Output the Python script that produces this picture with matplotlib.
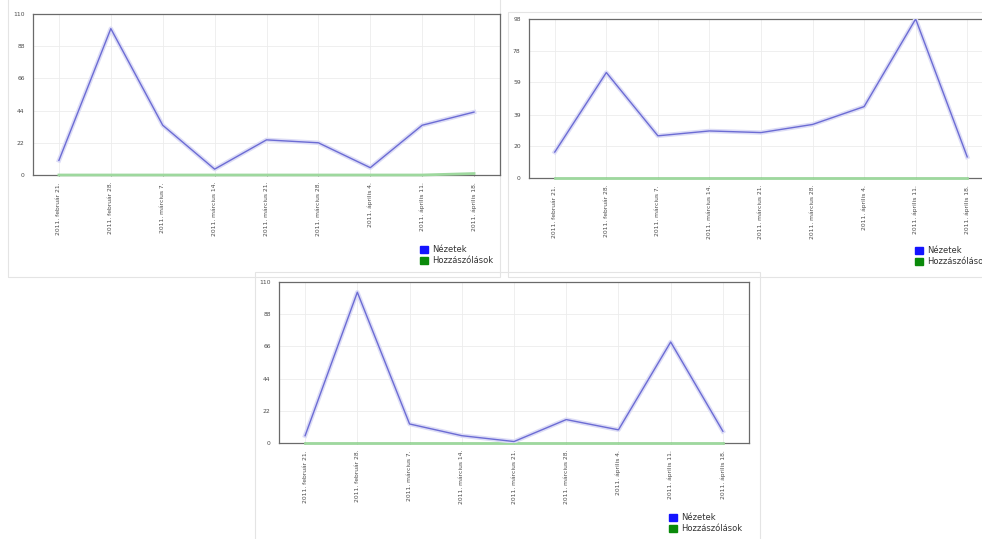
import matplotlib.pyplot as plt
from matplotlib.patches import Rectangle, Patch

# weekly dates (same for all three panels)
dates = ['2011. február 21.', '2011. február 28.', '2011. március 7.',
         '2011. március 14.', '2011. március 21.', '2011. március 28.',
         '2011. április 4.', '2011. április 11.', '2011. április 18.']

# panel 1 (top left)
views1 = [10, 100, 34, 4, 24, 22, 5, 34, 43]
comments1 = [0, 0, 0, 0, 0, 0, 0, 0, 1]
yticks1 = [0, 22, 44, 66, 88, 110]

# panel 2 (top right)
views2 = [16, 65, 26, 29, 28, 33, 44, 98, 13]
comments2 = [0, 0, 0, 0, 0, 0, 0, 0, 0]
yticks2 = [0, 20, 39, 59, 78, 98]

# panel 3 (bottom)
views3 = [5, 103, 13, 5, 1, 16, 9, 69, 8]
comments3 = [0, 0, 0, 0, 0, 0, 0, 0, 0]
yticks3 = [0, 22, 44, 66, 88, 110]

W, H = 982, 539
fig = plt.figure(figsize=(W / 100, H / 100), dpi=100)
fig.patch.set_facecolor('white')


def px_rect(x0, y0, x1, y1):
    # pixel box (top-left origin) -> figure fraction [l, b, w, h]
    return [x0 / W, 1 - y1 / H, (x1 - x0) / W, (y1 - y0) / H]


# light card outlines behind each chart
for x0, y0, x1, y1 in [(8, -5, 500, 277), (508, 12, 990, 277), (255, 272, 760, 545)]:
    l, b, w, h = px_rect(x0, y0, x1, y1)
    fig.patches.append(Rectangle((l, b), w, h, transform=fig.transFigure,
                                 facecolor='none', edgecolor='#e4e4e4', lw=0.8, zorder=-5))


def panel(box, views, comments, yticks, legend_xy):
    ax = fig.add_axes(px_rect(*box))
    ax.patch.set_alpha(0)
    x = list(range(len(dates)))
    ax.plot(x, comments, color='#9ed89e', lw=2.0, zorder=3, clip_on=False)
    ax.plot(x, views, color='#dcdcf6', lw=3.2, zorder=4, solid_joinstyle='round')
    ax.plot(x, views, color='#6c6cd4', lw=1.0, zorder=5)
    ax.set_xlim(-0.5, len(dates) - 0.5)
    ax.set_ylim(yticks[0], yticks[-1])
    ax.set_xticks(x)
    ax.set_xticklabels(dates, rotation=90, fontsize=4.3, color='#4a4a4a')
    ax.set_yticks(yticks)
    ax.set_yticklabels([str(t) for t in yticks], fontsize=4.3, color='#4a4a4a')
    ax.tick_params(axis='x', length=2, width=0.6, direction='inout', color='#777777', pad=4)
    ax.tick_params(axis='y', length=0, pad=6)
    ax.grid(True, color='#ececec', lw=0.6)
    ax.set_axisbelow(True)
    for s in ax.spines.values():
        s.set_color('#6a6a6a')
        s.set_linewidth(0.9)
    handles = [Patch(facecolor='#1414ff', edgecolor='#1414ff', label='Nézetek'),
               Patch(facecolor='#0a8a0a', edgecolor='#0a8a0a', label='Hozzászólások')]
    leg = ax.legend(handles=handles, loc='upper left',
                    bbox_to_anchor=(legend_xy[0] / W, 1 - legend_xy[1] / H),
                    bbox_transform=fig.transFigure, frameon=False, fontsize=6,
                    handlelength=0.9, handleheight=0.9, handletextpad=0.6,
                    labelspacing=0.25, borderpad=0, borderaxespad=0)
    for t in leg.get_texts():
        t.set_color('#333333')
    return ax


panel((33, 14, 500, 175), views1, comments1, yticks1, (420, 245))
panel((529, 19, 993, 178), views2, comments2, yticks2, (915, 246))
panel((279, 282, 749, 443), views3, comments3, yticks3, (669, 513))

fig.savefig('out.png', dpi=100)
